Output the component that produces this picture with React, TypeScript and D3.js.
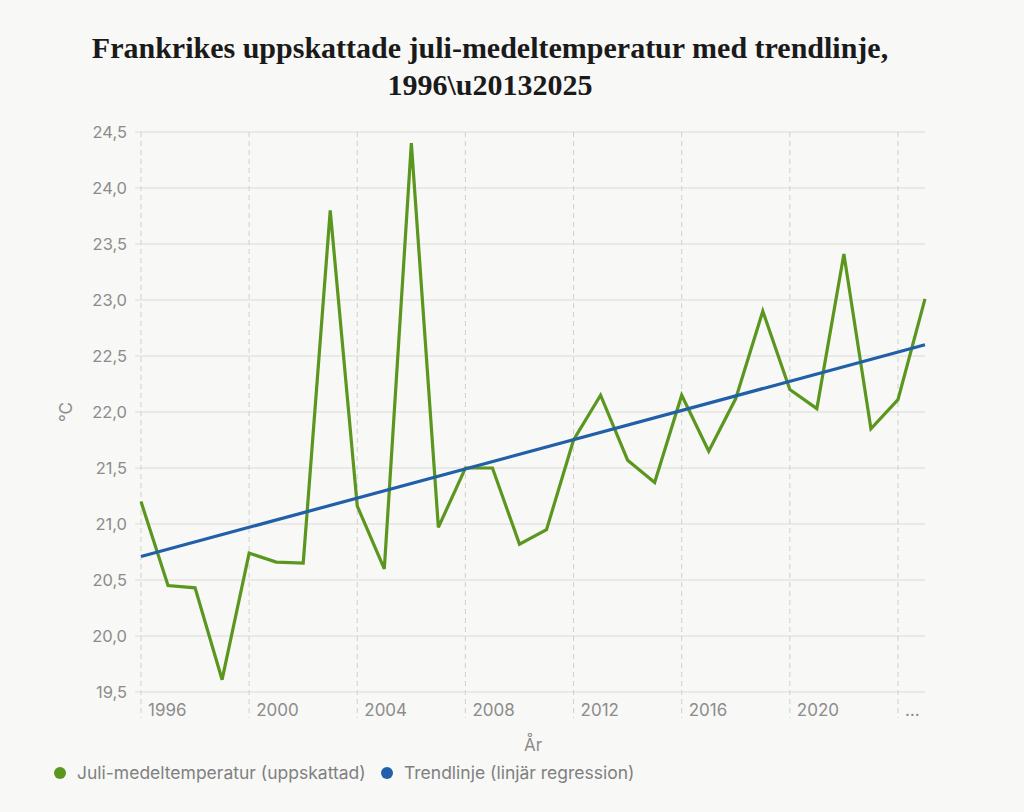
import React, { useEffect, useRef } from 'react';
import * as d3 from 'd3';

// July mean temperature, France (estimated), 1996-2025
const years: number[] = d3.range(1996, 2026);
const julyTemps: number[] = [
  21.2, 20.45, 20.43, 19.61, 20.74, 20.66, 20.65, 23.8, 21.16, 20.6,
  24.4, 20.97, 21.5, 21.5, 20.82, 20.95, 21.75, 22.15, 21.57, 21.37,
  22.15, 21.65, 22.12, 22.9, 22.2, 22.03, 23.41, 21.85, 22.11, 23.01,
];
// linear regression end points
const trendYears: number[] = [1996, 2025];
const trendValues: number[] = [20.71, 22.6];

const yTicks: number[] = [19.5, 20, 20.5, 21, 21.5, 22, 22.5, 23, 23.5, 24, 24.5];
const xTickYears: number[] = [1996, 2000, 2004, 2008, 2012, 2016, 2020, 2024];
const xTickLabels: string[] = ['1996', '2000', '2004', '2008', '2012', '2016', '2020', '…'];

const legendItems = [
  { label: 'Juli-medeltemperatur (uppskattad)', color: '#5b961f' },
  { label: 'Trendlinje (linjär regression)', color: '#2160a8' },
];

const W = 1024;
const H = 812;
const margin = { top: 132, right: 99, bottom: 120, left: 141 };
const sans = 'Inter, "Noto Sans", sans-serif';
const grey = '#8c8c8c';

const App = () => {
  const svgRef = useRef<SVGSVGElement>(null);

  useEffect(() => {
    document.body.style.margin = '0';
    document.body.style.background = '#f8f8f7';

    const svg = d3.select(svgRef.current);
    svg.selectAll('*').remove();

    const x = d3.scaleLinear().domain([1996, 2025]).range([margin.left, W - margin.right]);
    const y = d3.scaleLinear().domain([19.5, 24.5]).range([H - margin.bottom, margin.top]);
    const fmt = (v: number) => d3.format('.1f')(v).replace('.', ',');

    // title
    const title = svg.append('text')
      .attr('text-anchor', 'middle')
      .attr('font-family', '"Liberation Serif", serif')
      .attr('font-weight', 'bold')
      .attr('font-size', 30)
      .attr('fill', '#1a1a1a');
    title.append('tspan').attr('x', 490).attr('y', 58)
      .text('Frankrikes uppskattade juli-medeltemperatur med trendlinje,');
    title.append('tspan').attr('x', 490).attr('y', 95).text('1996\\u20132025');

    // horizontal grid
    svg.append('g')
      .selectAll('line')
      .data(yTicks)
      .join('line')
      .attr('x1', margin.left - 6)
      .attr('x2', W - margin.right)
      .attr('y1', (d) => y(d))
      .attr('y2', (d) => y(d))
      .attr('stroke', '#d9d9d9')
      .attr('stroke-width', 1.2);

    svg.append('g')
      .selectAll('text')
      .data(yTicks)
      .join('text')
      .attr('x', margin.left - 14)
      .attr('y', (d) => y(d))
      .attr('dy', '0.35em')
      .attr('text-anchor', 'end')
      .attr('font-family', sans)
      .attr('font-size', 16.5)
      .attr('fill', grey)
      .text(fmt);

    // vertical dashed grid
    svg.append('g')
      .selectAll('line')
      .data(xTickYears)
      .join('line')
      .attr('x1', (d) => x(d))
      .attr('x2', (d) => x(d))
      .attr('y1', margin.top)
      .attr('y2', H - margin.bottom + 26)
      .attr('stroke', '#cfcfcf')
      .attr('stroke-width', 1)
      .attr('stroke-dasharray', '5,4');

    svg.append('g')
      .selectAll('text')
      .data(xTickYears)
      .join('text')
      .attr('x', (d) => x(d) + 7)
      .attr('y', H - margin.bottom + 24)
      .attr('font-family', sans)
      .attr('font-size', 17)
      .attr('fill', grey)
      .text((d, i) => xTickLabels[i]);

    // axis titles
    svg.append('text')
      .attr('x', (margin.left + W - margin.right) / 2)
      .attr('y', 751)
      .attr('text-anchor', 'middle')
      .attr('font-family', sans)
      .attr('font-size', 17)
      .attr('fill', grey)
      .text('År');

    svg.append('text')
      .attr('transform', `translate(72,${(margin.top + H - margin.bottom) / 2}) rotate(-90)`)
      .attr('text-anchor', 'middle')
      .attr('font-family', sans)
      .attr('font-size', 17)
      .attr('fill', grey)
      .text('°C');

    // series
    const line = d3.line<number>()
      .x((d, i) => x(years[i]))
      .y((d) => y(d));

    svg.append('path')
      .datum(julyTemps)
      .attr('d', line)
      .attr('fill', 'none')
      .attr('stroke', legendItems[0].color)
      .attr('stroke-width', 3.2)
      .attr('stroke-linejoin', 'miter');

    const trend = d3.line<number>()
      .x((d, i) => x(trendYears[i]))
      .y((d) => y(d));

    svg.append('path')
      .datum(trendValues)
      .attr('d', trend)
      .attr('fill', 'none')
      .attr('stroke', legendItems[1].color)
      .attr('stroke-width', 3.2);

    // legend
    const legendX = [60, 387];
    const lg = svg.append('g')
      .selectAll('g')
      .data(legendItems)
      .join('g')
      .attr('transform', (d, i) => `translate(${legendX[i]},773)`);
    lg.append('circle').attr('r', 6).attr('fill', (d) => d.color);
    lg.append('text')
      .attr('x', 17)
      .attr('dy', '0.35em')
      .attr('font-family', sans)
      .attr('font-size', 17.5)
      .attr('fill', '#808080')
      .text((d) => d.label);
  }, []);

  return <svg ref={svgRef} width={W} height={H} style={{ display: 'block' }} />;
};

export default App;
